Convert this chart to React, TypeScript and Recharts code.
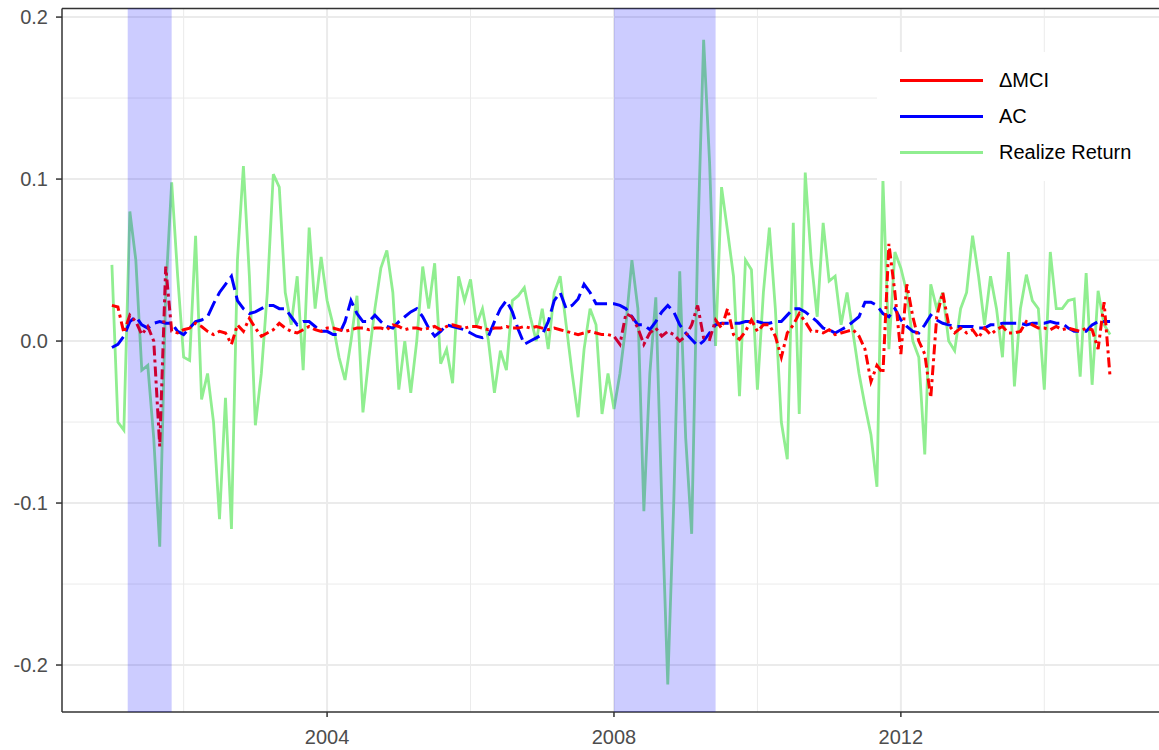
import React from "react";
import {
  LineChart,
  Line,
  XAxis,
  YAxis,
  ReferenceLine,
  ReferenceArea,
  Legend,
} from "recharts";

// monthly series, Jan 2001 .. Dec 2014
const START_YEAR = 2001;

const realizedReturn = [
  0.047, -0.05, -0.055, 0.08, 0.05, -0.018, -0.015, -0.06, -0.127, 0.03, 0.098, 0.04,
  -0.01, -0.012, 0.065, -0.036, -0.02, -0.05, -0.11, -0.035, -0.116, 0.05, 0.108, 0.04,
  -0.052, -0.02, 0.03, 0.103, 0.095, 0.03, 0.01, 0.04, -0.018, 0.07, 0.02, 0.052,
  0.025, 0.01, -0.01, -0.024, 0.0, 0.028, -0.044, -0.01, 0.02, 0.045, 0.056, 0.03,
  -0.03, 0.0, -0.032, 0.0, 0.046, 0.02, 0.048, -0.014, -0.005, -0.026, 0.04, 0.025,
  0.038, 0.01, 0.02, 0.0, -0.032, -0.006, -0.018, 0.025, 0.028, 0.033, 0.015, 0.0,
  0.02, -0.005, 0.03, 0.04, 0.01, -0.02, -0.047, -0.005, 0.02, 0.01, -0.045, -0.02,
  -0.042, -0.02, 0.01, 0.05, 0.02, -0.105, -0.02, 0.027, -0.1, -0.212, -0.1, 0.043,
  -0.06, -0.119, 0.06, 0.186, 0.11, -0.003, 0.095, 0.068, 0.04, -0.034, 0.05, 0.044,
  -0.03, 0.03, 0.07, 0.02, -0.05, -0.073, 0.073, -0.045, 0.104, 0.05, 0.015, 0.073,
  0.037, 0.04, 0.01, 0.03, 0.005, -0.02, -0.04, -0.058, -0.09, 0.1, -0.005, 0.055,
  0.045, 0.03, 0.0, -0.01, -0.07, 0.035, 0.02, 0.03, 0.0, -0.006, 0.02, 0.03,
  0.065, 0.04, 0.01, 0.04, 0.02, -0.01, 0.055, -0.028, 0.02, 0.041, 0.025, 0.02,
  -0.03, 0.055, 0.02, 0.02, 0.025, 0.026, -0.022, 0.042, -0.027, 0.031, 0.01, 0.004,
];

const deltaMci = [
  0.022, 0.021, 0.005, 0.016, 0.012, 0.004, 0.009, 0.0, -0.065, 0.046, 0.006, 0.005,
  0.007, 0.008, 0.011, 0.009, 0.006, 0.004, 0.006, 0.005, -0.002, 0.01, 0.006, 0.014,
  0.008, 0.003, 0.005, 0.007, 0.011, 0.008, 0.006, 0.005, 0.007, 0.009, 0.007, 0.006,
  0.008, 0.008, 0.007, 0.006, 0.007, 0.008, 0.008, 0.007, 0.008, 0.008, 0.007, 0.01,
  0.009, 0.007, 0.008, 0.008, 0.007, 0.008, 0.009, 0.007, 0.009, 0.01, 0.009, 0.008,
  0.009, 0.009, 0.008, 0.007, 0.008, 0.008, 0.009, 0.008, 0.008, 0.009, 0.008, 0.009,
  0.008, 0.007, 0.008, 0.007, 0.006, 0.005, 0.004, 0.005, 0.006, 0.005, 0.004, 0.004,
  0.003, -0.002, 0.017, 0.015, 0.008, -0.002, 0.005, 0.008, 0.003, 0.006, 0.004, 0.0,
  0.003, 0.01, 0.022, 0.002, 0.001, 0.013, 0.008, 0.02, 0.004, 0.001, 0.006, 0.013,
  0.006, 0.01, 0.01, 0.003, -0.01, 0.005, 0.01, 0.017, 0.012, 0.006, 0.006, 0.005,
  0.007, 0.004, 0.005, 0.006, 0.007, 0.003, -0.005, -0.025, -0.015, -0.02, 0.06, 0.03,
  -0.008, 0.035, 0.015, 0.0, -0.008, -0.035, 0.015, 0.03, 0.01, 0.005, 0.008, 0.005,
  0.007, 0.002, 0.008, 0.004, 0.007, 0.009, 0.005, 0.005, 0.006, 0.012, 0.01, 0.008,
  0.008, 0.007, 0.009, 0.007, 0.008, 0.007, 0.006, 0.008, 0.007, -0.005, 0.024, -0.022,
];

const acValues = [
  -0.004, -0.002, 0.003, 0.012, 0.015, 0.01, 0.008, 0.011, 0.012, 0.011, 0.011, 0.006,
  0.004, 0.008, 0.012, 0.013, 0.015, 0.023, 0.03, 0.035, 0.04, 0.025, 0.02, 0.017,
  0.018, 0.02, 0.022, 0.022, 0.02, 0.02, 0.015, 0.01, 0.012, 0.012, 0.009, 0.006,
  0.006, 0.004, 0.004, 0.012, 0.025, 0.017, 0.012, 0.012, 0.016, 0.012, 0.009, 0.008,
  0.012, 0.015, 0.018, 0.02, 0.015, 0.008, 0.003, 0.006, 0.01, 0.009, 0.008, 0.007,
  0.005, 0.003, 0.002, 0.003, 0.012, 0.02, 0.025, 0.018, 0.007, -0.002, 0.0, 0.002,
  0.004, 0.012, 0.025, 0.03, 0.02, 0.022, 0.026, 0.035, 0.03, 0.023, 0.023, 0.023,
  0.023, 0.022, 0.02, 0.015, 0.01, 0.01, 0.007, 0.012, 0.018, 0.022, 0.018, 0.01,
  0.005, 0.001, -0.003, 0.0, 0.005, 0.01, 0.011, 0.011, 0.011, 0.011, 0.012, 0.012,
  0.012, 0.011, 0.011, 0.012, 0.012, 0.016, 0.02, 0.02, 0.018, 0.015, 0.012, 0.008,
  0.007, 0.005, 0.007, 0.009, 0.012, 0.015, 0.024, 0.024, 0.022, 0.017, 0.015, 0.02,
  0.013, 0.009, 0.006, 0.005, 0.01, 0.016, 0.013, 0.011, 0.01, 0.009, 0.009, 0.009,
  0.009, 0.008, 0.008, 0.01, 0.01, 0.011, 0.011, 0.011, 0.011, 0.01, 0.011, 0.011,
  0.011, 0.012, 0.011, 0.011, 0.008, 0.006, 0.006, 0.006, 0.01, 0.012, 0.012, 0.012,
];

// recession shading (decimal years)
const recessionStart = [2001.22, 2008.0];
const recessionEnd = [2001.833, 2009.417];

const yTicks = [-0.2, -0.1, 0, 0.1, 0.2];
const yMinor = [-0.15, -0.05, 0.05, 0.15];
const xTicks = [2004, 2008, 2012];
const xMinor = [2002, 2006, 2010, 2014];

const X_DOMAIN: [number, number] = [2000.304, 2015.613];
const Y_DOMAIN: [number, number] = [-0.229, 0.2053];

const FONT = '"Liberation Sans", Arial, sans-serif';

const series = [
  { key: "mci", name: "\u0394MCI", color: "#FF0000" },
  { key: "ac", name: "AC", color: "#0000FF" },
  { key: "rr", name: "Realize Return", color: "#90EE90" },
];

const data = realizedReturn.map((v, i) => ({
  t: START_YEAR + i / 12,
  rr: v,
  mci: deltaMci[i],
  ac: acValues[i],
}));

const MARGIN = { top: 8.5, right: 10, bottom: 0, left: 0 };

function LegendBox() {
  return (
    <div
      style={{
        background: "#fff",
        width: 290,
        height: 129,
        position: "relative",
        fontFamily: FONT,
        fontSize: 20,
        color: "#000",
      }}
    >
      {series.map((s, k) => (
        <div
          key={s.key}
          style={{
            position: "absolute",
            left: 23,
            top: 10 + k * 36,
            height: 36,
            display: "flex",
            alignItems: "center",
          }}
        >
          <div style={{ width: 83, height: 3, background: s.color }} />
          <span style={{ marginLeft: 16, whiteSpace: "nowrap" }}>{s.name}</span>
        </div>
      ))}
    </div>
  );
}

export default function App() {
  return (
    <div
      style={{
        position: "absolute",
        left: 0,
        top: 0,
        width: 1159,
        height: 750,
        overflow: "hidden",
        background: "#fff",
      }}
    >
      <LineChart width={1170} height={750} data={data} margin={MARGIN}>
        {yMinor.map((v) => (
          <ReferenceLine key={"ym" + v} y={v} stroke="#EBEBEB" strokeWidth={1} />
        ))}
        {xMinor.map((v) => (
          <ReferenceLine key={"xm" + v} x={v} stroke="#EBEBEB" strokeWidth={1} />
        ))}
        {yTicks.map((v) => (
          <ReferenceLine key={"y" + v} y={v} stroke="#EBEBEB" strokeWidth={2} />
        ))}
        {xTicks.map((v) => (
          <ReferenceLine key={"x" + v} x={v} stroke="#EBEBEB" strokeWidth={2} />
        ))}
        <XAxis
          dataKey="t"
          type="number"
          domain={X_DOMAIN}
          ticks={xTicks}
          allowDataOverflow
          height={38}
          tickSize={5}
          tickMargin={13}
          tick={{ fontSize: 20, fill: "#4D4D4D", fontFamily: FONT }}
          axisLine={{ stroke: "#333333", strokeWidth: 1.5 }}
          tickLine={{ stroke: "#333333", strokeWidth: 1.5 }}
        />
        <YAxis
          type="number"
          domain={Y_DOMAIN}
          ticks={yTicks}
          allowDataOverflow
          width={62}
          tickSize={6}
          tickMargin={8}
          tickFormatter={(v) => Number(v).toFixed(1)}
          tick={{ fontSize: 20, fill: "#4D4D4D", fontFamily: FONT }}
          axisLine={{ stroke: "#333333", strokeWidth: 1.5 }}
          tickLine={{ stroke: "#333333", strokeWidth: 1.5 }}
        />
        <ReferenceLine y={Y_DOMAIN[1]} stroke="#333333" strokeWidth={1.5} />
        <Line
          dataKey="rr"
          name="Realize Return"
          stroke="#90EE90"
          strokeWidth={2.8}
          dot={false}
          activeDot={false}
          type="linear"
          isAnimationActive={false}
        />
        <Line
          dataKey="ac"
          name="AC"
          stroke="#0000FF"
          strokeWidth={3}
          strokeDasharray="16 6"
          dot={false}
          activeDot={false}
          type="linear"
          isAnimationActive={false}
        />
        <Line
          dataKey="mci"
          name={"\u0394MCI"}
          stroke="#FF0000"
          strokeWidth={3}
          strokeDasharray="10 4 3 4"
          dot={false}
          activeDot={false}
          type="linear"
          isAnimationActive={false}
        />
        <Legend
          layout="horizontal"
          align="center"
          verticalAlign="middle"
          content={() => <LegendBox />}
          wrapperStyle={{ left: 877, top: 52, width: 290, height: 129 }}
        />
      </LineChart>
      {/* recession shading sits over the lines, like the original */}
      <div style={{ position: "absolute", left: 0, top: 0, pointerEvents: "none" }}>
        <LineChart width={1170} height={750} data={data} margin={MARGIN}>
          <XAxis dataKey="t" type="number" domain={X_DOMAIN} allowDataOverflow height={38} tick={false} axisLine={false} tickLine={false} />
          <YAxis type="number" domain={Y_DOMAIN} allowDataOverflow width={62} tick={false} axisLine={false} tickLine={false} />
          {recessionStart.map((x1, k) => (
            <ReferenceArea
              key={"rec" + k}
              x1={x1}
              x2={recessionEnd[k]}
              fill="#0000FF"
              fillOpacity={0.2}
              stroke="none"
            />
          ))}
        </LineChart>
      </div>
    </div>
  );
}
